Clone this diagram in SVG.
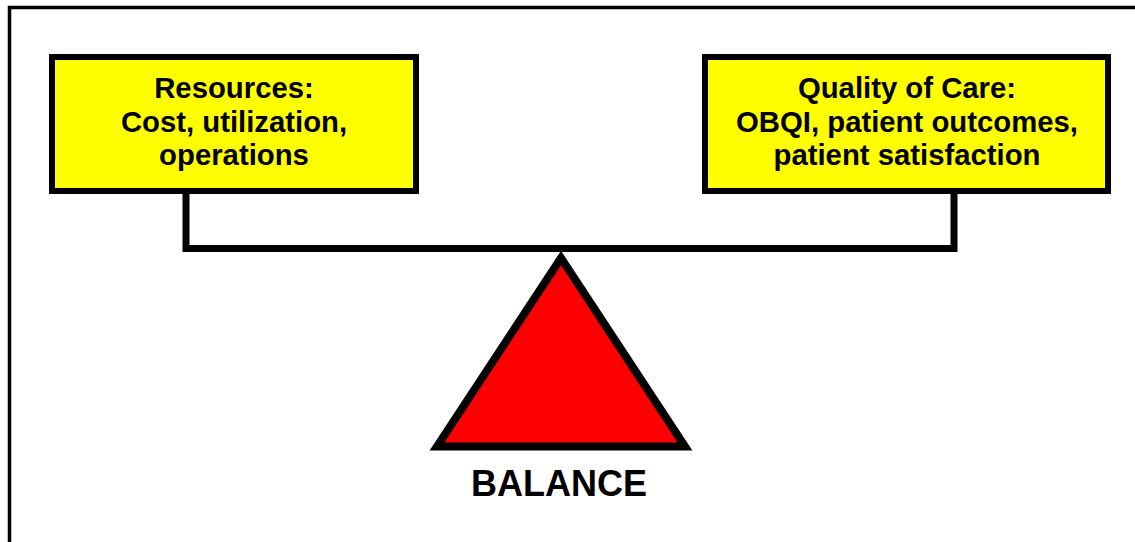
<svg xmlns="http://www.w3.org/2000/svg" width="1135" height="542" viewBox="0 0 1135 542">
<style>
.box{fill:#ffff00;stroke:#000;stroke-width:6}
.lbl{font-family:"Liberation Sans",Arial,sans-serif;font-weight:bold;font-size:29.3px;fill:#000;text-anchor:middle}
.conn{fill:none;stroke:#000;stroke-width:7;stroke-linejoin:miter;stroke-linecap:butt}
</style>
<rect x="0" y="0" width="1135" height="542" fill="#fff"/>
<rect x="9.5" y="7.5" width="1140" height="560" fill="none" stroke="#000" stroke-width="3.5"/>
<g id="connectors">
<path class="conn" d="M186,194 V248.5 H954 V194"/>
</g>
<g id="resources">
<rect class="box" x="52" y="57" width="364" height="134"/>
<text class="lbl" x="234" y="98">Resources:</text>
<text class="lbl" x="234" y="132">Cost, utilization,</text>
<text class="lbl" x="234" y="165">operations</text>
</g>
<g id="quality">
<rect class="box" x="705" y="57" width="403" height="134"/>
<text class="lbl" x="907" y="98">Quality of Care:</text>
<text class="lbl" x="907" y="132">OBQI, patient outcomes,</text>
<text class="lbl" x="907" y="165">patient satisfaction</text>
</g>
<g id="balance">
<polygon points="561,258 437,446.5 685,446.5" fill="#ff0000" stroke="#000" stroke-width="8" stroke-linejoin="miter"/>
<text x="559" y="496" font-family="Liberation Sans, Arial, sans-serif" font-weight="bold" font-size="36" text-anchor="middle" fill="#000">BALANCE</text>
</g>
</svg>
